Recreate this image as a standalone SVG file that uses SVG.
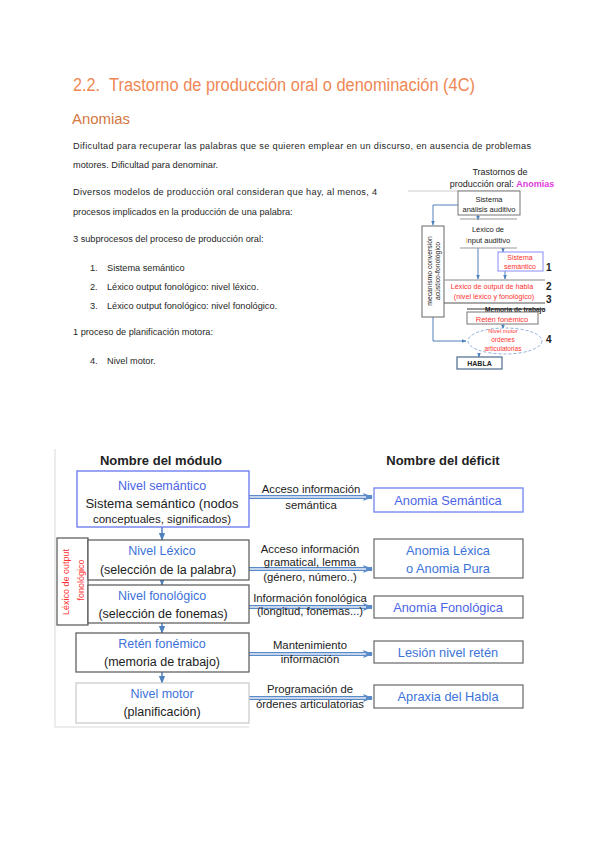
<svg xmlns="http://www.w3.org/2000/svg" width="600" height="848" viewBox="0 0 600 848">
<style>
  .body{font-family:"Liberation Sans",Arial,sans-serif;font-size:9.2px;fill:#1f1f1f}
  .sd{font-family:"Liberation Sans",Arial,sans-serif;fill:#222}
  .tb{font-family:"Liberation Sans",Arial,sans-serif;fill:#222}
  .red{fill:#ff3030}
  .blue{fill:#3b73d9}
  .lbl{font-family:"Liberation Sans",Arial,sans-serif;font-size:11.3px;fill:#222;text-anchor:middle}
  .res{font-family:"Liberation Sans",Arial,sans-serif;font-size:12.8px;fill:#3b73d9;text-anchor:middle}
  .mid{text-anchor:middle}
  .box{fill:#fff;stroke:#555;stroke-width:1.2}
  .rbox{fill:#fff;stroke:#666;stroke-width:1.2}
  .conn{fill:none;stroke:#4f81bd;stroke-width:1.5}
  .sconn{fill:none;stroke:#4f81bd;stroke-width:1}
  .dbl{fill:none;stroke:#5b8ac9;stroke-width:4}
  .dbli{fill:none;stroke:#e6eef9;stroke-width:1.4}
  .gl{stroke:#999;stroke-width:1}
</style>
<defs>
  <marker id="ah" markerUnits="userSpaceOnUse" viewBox="0 0 10 10" refX="9" refY="5" markerWidth="8" markerHeight="8" orient="auto"><path d="M0,1 L10,5 L0,9 z" fill="#4f81bd"/></marker>
  <marker id="ahs" markerUnits="userSpaceOnUse" viewBox="0 0 10 10" refX="9" refY="5" markerWidth="5" markerHeight="5" orient="auto"><path d="M0,1 L10,5 L0,9 z" fill="#4f81bd"/></marker>
  <marker id="ahd" markerUnits="userSpaceOnUse" viewBox="0 0 10 10" refX="9" refY="5" markerWidth="10" markerHeight="10" orient="auto"><path d="M0,1 L10,5 L0,9 L2,5 z" fill="#5b8ac9"/></marker>
</defs>
<rect width="600" height="848" fill="#fff"/>

<!-- Header text -->
<g id="header">
  <text x="73" y="91" font-family="Liberation Sans, Arial, sans-serif" font-size="18" fill="#ef8754" textLength="27" lengthAdjust="spacingAndGlyphs">2.2.</text>
  <text x="109" y="91" font-family="Liberation Sans, Arial, sans-serif" font-size="18" fill="#ef8754" textLength="366" lengthAdjust="spacingAndGlyphs">Trastorno de producción oral o denominación (4C)</text>
  <text x="72" y="124" font-family="Liberation Sans, Arial, sans-serif" font-size="15.5" fill="#d2773f" textLength="58" lengthAdjust="spacingAndGlyphs">Anomias</text>
  <text class="body" x="73" y="149" textLength="458" lengthAdjust="spacing">Dificultad para recuperar las palabras que se quieren emplear en un discurso, en ausencia de problemas</text>
  <text class="body" x="73" y="168">motores. Dificultad para denominar.</text>
  <text class="body" x="73" y="195" textLength="304" lengthAdjust="spacing">Diversos modelos de producción oral consideran que hay, al menos, 4</text>
  <text class="body" x="73" y="215">procesos implicados en la producción de una palabra:</text>
  <text class="body" x="73" y="242">3 subprocesos del proceso de producción oral:</text>
  <text class="body" x="90" y="271">1.</text>
  <text class="body" x="107" y="271">Sistema semántico</text>
  <text class="body" x="90" y="290">2.</text>
  <text class="body" x="107" y="290">Léxico output fonológico: nivel léxico.</text>
  <text class="body" x="90" y="309">3.</text>
  <text class="body" x="107" y="309">Léxico output fonológico: nivel fonológico.</text>
  <text class="body" x="73" y="335">1 proceso de planificación motora:</text>
  <text class="body" x="90" y="364">4.</text>
  <text class="body" x="107" y="364">Nivel motor.</text>
</g>

<!-- Small diagram -->
<g id="sd-title">
  <text class="sd mid" x="500" y="175" font-size="9">Trastornos de</text>
  <text class="sd mid" x="502" y="187" font-size="9">producción oral: <tspan font-weight="bold" fill="#e03be0">Anomias</tspan></text>
</g>
<g id="sd-connectors">
  <line x1="408" y1="191" x2="520" y2="191" stroke="#ccc" stroke-width="1"/>
  <path class="sconn" d="M458,205 H433 V225" marker-end="url(#ahs)"/>
  <path class="sconn" d="M478,215 V220" marker-end="url(#ahs)"/>
  <path class="sconn" d="M478,248 V279" marker-end="url(#ahs)"/>
  <path class="sconn" d="M503,248 V252" marker-end="url(#ahs)"/>
  <path class="sconn" d="M505,271 V279" marker-end="url(#ahs)"/>
  <path class="sconn" d="M503,324 V329" marker-end="url(#ahs)"/>
  <path class="sconn" d="M433,317 V341 H466" marker-end="url(#ahs)"/>
  <path class="sconn" d="M479,353 V357" marker-end="url(#ahs)"/>
</g>
<g id="sd-sistema-auditivo">
  <rect x="458" y="191" width="62" height="24" fill="#fff" stroke="#777" stroke-width="1"/>
  <text class="sd mid" x="489" y="202" font-size="7.5">Sistema</text>
  <text class="sd mid" x="489" y="212" font-size="7.5">análisis auditivo</text>
</g>
<g id="sd-lexico-input">
  <line class="gl" x1="460" y1="219" x2="517" y2="219"/>
  <line class="gl" x1="460" y1="248" x2="517" y2="248"/>
  <text class="sd mid" x="488" y="232" font-size="7.5">Léxico de</text>
  <text class="sd mid" x="488" y="243" font-size="7.5"><tspan fill="#e0a040">i</tspan>nput auditivo</text>
</g>
<g id="sd-mecanismo">
  <rect x="422" y="226" width="22" height="91" fill="#fff" stroke="#666" stroke-width="1"/>
  <text class="sd mid" font-size="6.8" transform="translate(432,271) rotate(-90)">mecanismo conversión</text>
  <text class="sd mid" font-size="6.8" transform="translate(440,271) rotate(-90)">acústico-fonológico</text>
</g>
<g id="sd-sistema-semantico">
  <rect x="498" y="252" width="45" height="19" fill="#fff" stroke="#8a8aff" stroke-width="1"/>
  <text class="sd mid red" x="520" y="260" font-size="7">Sistema</text>
  <text class="sd mid red" x="520" y="269" font-size="7">semántico</text>
  <text class="sd" x="546" y="271" font-size="10" font-weight="bold">1</text>
</g>
<g id="sd-lexico-output">
  <line x1="444" y1="280" x2="545" y2="280" stroke="#888" stroke-width="1"/>
  <line x1="444" y1="303" x2="545" y2="303" stroke="#555" stroke-width="1"/>
  <text class="sd mid red" x="492" y="289" font-size="7.2">Léxico de output de habla</text>
  <text class="sd mid red" x="494" y="299" font-size="7.2">(nivel léxico y fonológico)</text>
  <text class="sd" x="546" y="290" font-size="10" font-weight="bold">2</text>
  <text class="sd" x="546" y="303" font-size="10" font-weight="bold">3</text>
</g>
<g id="sd-memoria">
  <line x1="467" y1="309" x2="545" y2="309" stroke="#333" stroke-width="1"/>
  <text class="sd" x="485" y="312" font-size="6.6" font-weight="bold">Memoria de trabajo</text>
</g>
<g id="sd-reten">
  <rect x="467" y="312" width="71" height="12" fill="#fff" stroke="#777" stroke-width="1"/>
  <text class="sd mid red" x="502" y="321.5" font-size="7.5">Retén fonémico</text>
</g>
<g id="sd-motor">
  <ellipse cx="505" cy="341" rx="37" ry="13" fill="#fff" stroke="#8fb0dd" stroke-width="1" stroke-dasharray="3,2"/>
  <text class="sd mid red" x="503" y="333" font-size="5.8">Nivel motor</text>
  <text class="sd mid red" x="503" y="342" font-size="6.5">órdenes</text>
  <text class="sd mid red" x="503" y="351" font-size="6.5">articulatorias</text>
  <text class="sd" x="546" y="343" font-size="10" font-weight="bold">4</text>
</g>
<g id="sd-habla">
  <rect x="457" y="357" width="45" height="12" fill="#fff" stroke="#4a6a8a" stroke-width="1.2"/>
  <text class="sd mid" x="479.5" y="366" font-size="7" font-weight="bold">HABLA</text>
</g>

<!-- Table frame -->
<g id="frame">
  <path d="M55,449 V727 H249" fill="none" stroke="#dadada" stroke-width="1"/>
  <text class="tb mid" x="161" y="465" font-size="13" font-weight="bold">Nombre del módulo</text>
  <text class="tb mid" x="443" y="465" font-size="13" font-weight="bold">Nombre del déficit</text>
</g>

<!-- Connectors -->
<g id="connectors">
  <path class="conn" d="M162,527 V540" marker-end="url(#ah)"/>
  <path class="conn" d="M162,578 V585" marker-end="url(#ah)"/>
  <path class="conn" d="M162,623 V633" marker-end="url(#ah)"/>
  <path class="conn" d="M162,660 V683" marker-end="url(#ah)"/>
  <path class="dbl" d="M249,497 H372" marker-end="url(#ahd)"/>
  <path class="dbli" d="M249,497 H366"/>
  <path class="dbl" d="M249,569 H372" marker-end="url(#ahd)"/>
  <path class="dbli" d="M249,569 H366"/>
  <path class="dbl" d="M249,607 H372" marker-end="url(#ahd)"/>
  <path class="dbli" d="M249,607 H366"/>
  <path class="dbl" d="M249,654 H372" marker-end="url(#ahd)"/>
  <path class="dbli" d="M249,654 H366"/>
  <path class="dbl" d="M249,698 H372" marker-end="url(#ahd)"/>
  <path class="dbli" d="M249,698 H366"/>
  <text class="lbl" x="311" y="493">Acceso información</text>
  <text class="lbl" x="311" y="509">semántica</text>
  <text class="lbl" x="310" y="553">Acceso información</text>
  <text class="lbl" x="310" y="566">gramatical, lemma</text>
  <text class="lbl" x="310" y="581">(género, número..)</text>
  <text class="lbl" x="310" y="602">Información fonológica</text>
  <text class="lbl" x="310" y="615">(longitud, fonemas...)</text>
  <text class="lbl" x="310" y="649">Mantenimiento</text>
  <text class="lbl" x="310" y="663">información</text>
  <text class="lbl" x="310" y="693">Programación de</text>
  <text class="lbl" x="310" y="708">órdenes articulatorias</text>
</g>

<!-- Module nodes -->
<g id="n-semantico">
  <rect x="77" y="471" width="172" height="56" fill="#fff" stroke="#6f7ff0" stroke-width="1.4"/>
  <text class="tb mid" x="162" y="490" font-size="12.5" style="fill:#4b63e6">Nivel semántico</text>
  <text class="tb mid" x="162" y="508" font-size="13">Sistema semántico (nodos</text>
  <text class="tb mid" x="162" y="523" font-size="11.5">conceptuales, significados)</text>
</g>
<g id="n-lexofon">
  <rect x="57" y="538" width="31" height="87" class="box"/>
  <text class="tb mid red" font-size="9" transform="translate(69,582) rotate(-90)">Léxico de output</text>
  <text class="tb mid red" font-size="9" transform="translate(84,580) rotate(-90)">fonológico</text>
</g>
<g id="n-lexico">
  <rect x="88" y="540" width="161" height="40" class="box"/>
  <text class="tb mid blue" x="162" y="555" font-size="12.5">Nivel Léxico</text>
  <text class="tb mid" x="168" y="574" font-size="12.5">(selección de la palabra)</text>
</g>
<g id="n-fonologico">
  <rect x="88" y="585" width="161" height="38" class="box"/>
  <text class="tb mid blue" x="162" y="600" font-size="12.5">Nivel fonológico</text>
  <text class="tb mid" x="163" y="618" font-size="12.5">(selección de fonemas)</text>
</g>
<g id="n-reten">
  <rect x="76" y="633" width="173" height="39" class="box"/>
  <text class="tb mid blue" x="162" y="648" font-size="12.5">Retén fonémico</text>
  <text class="tb mid" x="162" y="666" font-size="12.5">(memoria de trabajo)</text>
</g>
<g id="n-motor">
  <rect x="76" y="683" width="173" height="40" fill="#fff" stroke="#c8c8c8" stroke-width="1.2"/>
  <text class="tb mid blue" x="162" y="698" font-size="12.5">Nivel motor</text>
  <text class="tb mid" x="162" y="716" font-size="12.5">(planificación)</text>
</g>

<!-- Deficit nodes -->
<g id="d-semantica">
  <rect x="374" y="488" width="149" height="24" fill="#fff" stroke="#7a8af0" stroke-width="1.4"/>
  <text class="res" x="448" y="505" style="fill:#4b63e6">Anomia Semántica</text>
</g>
<g id="d-lexica">
  <rect x="374" y="539" width="149" height="39" class="rbox"/>
  <text class="res" x="448" y="555">Anomia Léxica</text>
  <text class="res" x="448" y="573">o Anomia Pura</text>
</g>
<g id="d-fonologica">
  <rect x="374" y="596" width="149" height="22" class="rbox"/>
  <text class="res" x="448" y="612" style="fill:#4b63e6">Anomia Fonológica</text>
</g>
<g id="d-reten">
  <rect x="374" y="641" width="149" height="22" class="rbox"/>
  <text class="res" x="448" y="657">Lesión nivel retén</text>
</g>
<g id="d-apraxia">
  <rect x="374" y="685" width="149" height="23" class="rbox"/>
  <text class="res" x="448" y="701">Apraxia del Habla</text>
</g>
</svg>
